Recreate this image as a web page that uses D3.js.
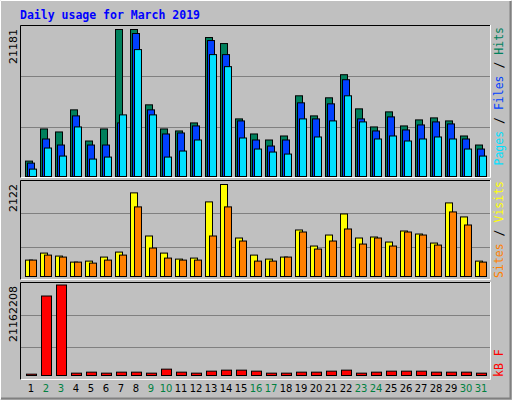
<!DOCTYPE html>
<html><head><meta charset="utf-8">
<script src="https://cdn.jsdelivr.net/npm/d3@7"></script>
<style>body{margin:0;background:#fff}</style></head>
<body><svg id="c" width="512" height="400"></svg>
<script>
const days = d3.range(1,32);
const weekend = [2,3,9,10,16,17,23,24,30,31];
const hits = [2348,6948,6517,9680,5223,6948,21181,21181,10399,6948,6661,7811,20031,19168,8386,6230,5367,5942,11692,8817,11405,14711,9824,7236,9392,7380,8242,8530,8098,5942,4648];
const files = [2061,5511,4648,8817,4648,4648,7811,20606,9680,6230,6373,7380,19599,17587,8098,5367,4504,5367,10686,8386,10542,13993,8386,6661,8674,6805,7523,7955,7667,5511,4073];
const pages = [1198,4217,3067,7236,2636,2923,8961,18305,8961,2923,3786,5367,17587,15862,5655,4073,3642,3354,8386,5798,8098,11692,7955,5511,5942,5223,5511,5798,5511,4073,3067];
const visits = [397,557,489,351,374,466,580,1931,947,557,420,443,1725,2122,901,511,420,466,1084,718,969,1450,901,924,809,1061,992,786,1702,1382,374];
const sites = [397,511,466,351,328,397,511,1611,672,443,397,397,947,1611,832,374,374,466,1038,649,832,1107,763,901,718,1038,969,740,1496,1198,351];
const kbytes = [540645,18613635,21162208,772350,1004055,772350,1004055,1004055,772350,1699170,1004055,772350,1235760,1467465,1467465,1235760,772350,772350,1004055,1004055,1235760,1467465,772350,1004055,1235760,1235760,1235760,1004055,1004055,1004055,772350];

const svg = d3.select("#c");
const F = "'DejaVu Sans Mono', 'Liberation Mono', monospace";
svg.append("rect").attr("width",512).attr("height",400).attr("fill","#c0c0c0");
svg.append("path").attr("d","M0.5,399.5V0.5H511.5").attr("stroke","#fff").attr("fill","none");
svg.append("path").attr("d","M1,398.5H510.5V1").attr("stroke","#808080").attr("fill","none").attr("stroke-width",2);
svg.append("text").attr("x",20).attr("y",19).attr("font-family",F).attr("font-weight","bold")
  .attr("font-size",11.5).attr("fill","#0000ff").text("Daily usage for March 2019");

const step = 15, x0 = d => 25 + (d-1)*step;

function panel(y0,y1,maxLabel){
  svg.append("rect").attr("x",20.5).attr("y",y0+0.5).attr("width",470).attr("height",y1-y0-1).attr("fill","#c0c0c0");
  const h=(y1-y0);
  [1/3,2/3].forEach(f=>svg.append("line").attr("x1",21).attr("x2",490).attr("y1",Math.round(y0+h*f)+0.5).attr("y2",Math.round(y0+h*f)+0.5).attr("stroke","#808080"));
  svg.append("path").attr("d",`M${20.5},${y1}V${y0+0.5}H491`).attr("stroke","#000").attr("fill","none");
  svg.append("path").attr("d",`M${20.5},${y1-0.5}H${490.5}V${y0}`).attr("stroke","#fff").attr("fill","none");
  svg.append("text").attr("transform",`translate(17,${y0+4}) rotate(-90)`).attr("text-anchor","end")
    .attr("font-family","'DejaVu Sans', sans-serif").attr("font-size",11).attr("fill","#000").text(maxLabel);
}
function legend(y,parts,anchor){
  const t=svg.append("text").attr("transform",`translate(503,${y}) rotate(-90)`).attr("text-anchor",anchor)
    .attr("font-family",F).attr("font-size",11.5);
  parts.forEach(p=>t.append("tspan").attr("fill",p[1]).text(p[0]));
}
function bars(data,color,off,w,y){
  svg.append("g").selectAll("rect").data(data).join("rect")
   .attr("x",(d,i)=>x0(days[i])+off+0.5).attr("width",w-1)
   .attr("y",d=>y(d)+0.5).attr("height",d=>Math.max(0,y.range()[0]-y(d)-1))
   .attr("fill",color).attr("stroke","#000");
}
panel(25,178,"21181");
const yTop = d3.scaleLinear().domain([0,21181]).range([177,29]);
bars(hits,"#00805c",0,8,yTop);
bars(files,"#0040ff",2,8,yTop);
bars(pages,"#00e0ff",4,8,yTop);
legend(27,[["Pages","#00e0ff"],[" / ","#000"],["Files","#0040ff"],[" / ","#000"],["Hits","#00805c"]],"end");
panel(180,280,"2122");
const yMid = d3.scaleLinear().domain([0,2122]).range([277,184]);
bars(visits,"#ffff00",0,8,yMid);
bars(sites,"#ff8000",4,8,yMid);
legend(181,[["Sites","#ff8000"],[" / ","#000"],["Visits","#ffff00"]],"end");
panel(282,380,"21162208");
const yBot = d3.scaleLinear().domain([0,21162208]).range([376,284.5]);
bars(kbytes,"#ff0000",1,11,yBot);
legend(377,[["kB F","#ff0000"]],"start");
svg.append("g").selectAll("text").data(days).join("text")
  .attr("x",d=>x0(d)+6).attr("y",392).attr("text-anchor","middle")
  .attr("font-family","'DejaVu Sans', sans-serif").attr("font-size",10)
  .attr("fill",d=>weekend.includes(d)?"#008040":"#000").text(d=>d);
</script></body></html>
